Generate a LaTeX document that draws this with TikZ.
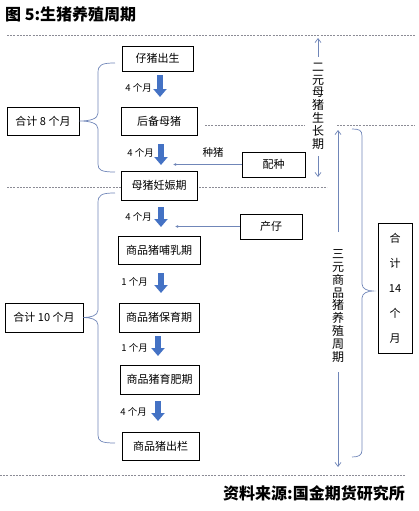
\documentclass[tikz,border=0pt]{standalone}
\usepackage{fontspec}
\setmainfont{Noto Sans CJK SC}
\usetikzlibrary{arrows.meta,calc}
\definecolor{blk}{HTML}{4472C4}
\definecolor{lnc}{RGB}{112,134,184}
\definecolor{dsh}{RGB}{140,140,150}
\tikzset{
  stagebox/.style={draw=black,line width=0.8pt,fill=white,inner sep=0pt,font=\fontsize{11}{13}\selectfont},
  blockarrow/.style={draw=blk,line width=6pt,-{Triangle[length=8pt,width=13pt]}},
  mlabel/.style={font=\fontsize{9.5}{11}\selectfont,inner sep=0pt},
  thinline/.style={draw=lnc,line width=0.7pt},
  thinarrow/.style={thinline,-{Straight Barb[length=4pt,width=6pt]}},
  smallarrow/.style={thinline,-{Latex[length=3pt,width=3pt]}},
  dashline/.style={draw=dsh,line width=0.6pt,dash pattern=on 2pt off 1.2pt},
  vtext/.style={align=center,inner sep=0pt,font=\fontsize{12}{12.8}\selectfont},
}
\begin{document}
\begin{tikzpicture}[x=1pt,y=-1pt]
\useasboundingbox (0,0) rectangle (418,511);
% title and footer
\node[anchor=west,inner sep=0pt,font=\fontsize{16}{18}\selectfont\bfseries] (title) at (5,14) {图 5:生猪养殖周期};
\node[anchor=east,inner sep=0pt,font=\fontsize{16}{18}\selectfont\bfseries] (foot) at (405,493) {资料来源:国金期货研究所};
% dashed separators
\coordinate (d1a) at (7,35); \coordinate (d1b) at (415,35);
\coordinate (d2a) at (205,125); \coordinate (d2b) at (305,125);
\coordinate (d3a) at (337,125); \coordinate (d3b) at (415,125);
\coordinate (d4a) at (7,187); \coordinate (d4b) at (327,187);
\coordinate (d5a) at (0,475); \coordinate (d5b) at (405,475);
\draw[dashline] (d1a) -- (d1b);
\draw[dashline] (d2a) -- (d2b);
\draw[dashline] (d3a) -- (d3b);
\draw[dashline] (d4a) -- (d4b);
\draw[dashline] (d5a) -- (d5b);
% stage boxes
\node[stagebox,minimum width=71pt,minimum height=25pt] (b1) at (157.5,58.5) {仔猪出生};
\node[stagebox,minimum width=76pt,minimum height=28pt] (b2) at (159,121) {后备母猪};
\node[stagebox,minimum width=76pt,minimum height=29pt] (b3) at (159,185.5) {母猪妊娠期};
\node[stagebox,minimum width=82pt,minimum height=28pt] (b4) at (159,250) {商品猪哺乳期};
\node[stagebox,minimum width=80pt,minimum height=29pt] (b5) at (159,317.5) {商品猪保育期};
\node[stagebox,minimum width=79pt,minimum height=29pt] (b6) at (159.5,379.5) {商品猪育肥期};
\node[stagebox,minimum width=77pt,minimum height=28pt] (b7) at (160.5,446) {商品猪出栏};
\node[stagebox,minimum width=63pt,minimum height=25pt] (pz) at (273.5,164.5) {配种};
\node[stagebox,minimum width=62pt,minimum height=25pt] (cz) at (271,226.5) {产仔};
\node[stagebox,minimum width=72pt,minimum height=28pt] (s8) at (43,121) {合计 8 个月};
\node[stagebox,minimum width=78pt,minimum height=29pt] (s10) at (44,317.5) {合计 10 个月};
\node[stagebox,minimum width=34pt,minimum height=130pt,align=center,font=\fontsize{11}{25}\selectfont] (s14) at (395,288) {合\\计\\14\\个\\月};
% block arrows
\coordinate (a1t) at (160,75);  \coordinate (a1b) at (160,97);
\coordinate (a2t) at (161,144); \coordinate (a2b) at (161,165);
\coordinate (a3t) at (161,207); \coordinate (a3b) at (161,227);
\coordinate (a4t) at (161,273); \coordinate (a4b) at (161,293);
\coordinate (a5t) at (158,336); \coordinate (a5b) at (158,356);
\coordinate (a6t) at (158,401); \coordinate (a6b) at (158,421);
\draw[blockarrow] (a1t) -- (a1b);
\draw[blockarrow] (a2t) -- (a2b);
\draw[blockarrow] (a3t) -- (a3b);
\draw[blockarrow] (a4t) -- (a4b);
\draw[blockarrow] (a5t) -- (a5b);
\draw[blockarrow] (a6t) -- (a6b);
\node[mlabel,anchor=east] (l1) at (152,88) {4 个月};
\node[mlabel,anchor=east] (l2) at (154,153) {4 个月};
\node[mlabel,anchor=east] (l3) at (152,217) {4 个月};
\node[mlabel,anchor=east] (l4) at (148,282) {1 个月};
\node[mlabel,anchor=east] (l5) at (148,348) {1 个月};
\node[mlabel,anchor=east] (l6) at (147,412) {4 个月};
% side inputs
\coordinate (pzend) at (173,164.5);
\coordinate (czend) at (175,226.5);
\draw[smallarrow] (pz.west) -- (pzend);
\draw[smallarrow] (cz.west) -- (czend);
\node[inner sep=0pt,font=\fontsize{10.5}{12}\selectfont] (zz) at (213,153) {种猪};
% braces
\draw[thinline] (115,63) .. controls (101,63) and (98,65) .. (98,73) -- (98,113)
  .. controls (98,119) and (90,121) .. (s8.east)
  .. controls (90,121) and (98,123) .. (98,129) -- (98,164)
  .. controls (98,170) and (101,172) .. (115,172);
\draw[thinline] (115,193) .. controls (101,193) and (98,195) .. (98,203) -- (98,310)
  .. controls (98,316) and (90,317.5) .. (s10.east)
  .. controls (90,317.5) and (98,319) .. (98,325) -- (98,435)
  .. controls (98,441) and (101,443) .. (115,443);
\draw[thinline] (352,129) .. controls (359,129) and (362,130) .. (362,136) -- (362,284)
  .. controls (362,289) and (368,291) .. (373,291)
  .. controls (368,291) and (362,293) .. (362,298) -- (362,450)
  .. controls (362,455) and (359,457) .. (352,457);
% vertical period arrows
\node[vtext] (t2) at (318,106) {二\\元\\母\\猪\\生\\长\\期};
\coordinate (t2top) at (318,38); \coordinate (t2bot) at (318,177);
\coordinate (t2a) at (318,57); \coordinate (t2b) at (318,156);
\draw[thinarrow] (t2a) -- (t2top);
\draw[thinarrow] (t2b) -- (t2bot);
\node[vtext] (t3) at (338,306) {三\\元\\商\\品\\猪\\养\\殖\\周\\期};
\coordinate (t3top) at (338,130); \coordinate (t3bot) at (338,467);
\coordinate (t3a) at (338,232); \coordinate (t3b) at (338,372);
\draw[thinarrow] (t3a) -- (t3top);
\draw[thinarrow] (t3b) -- (t3bot);
\end{tikzpicture}
\end{document}
